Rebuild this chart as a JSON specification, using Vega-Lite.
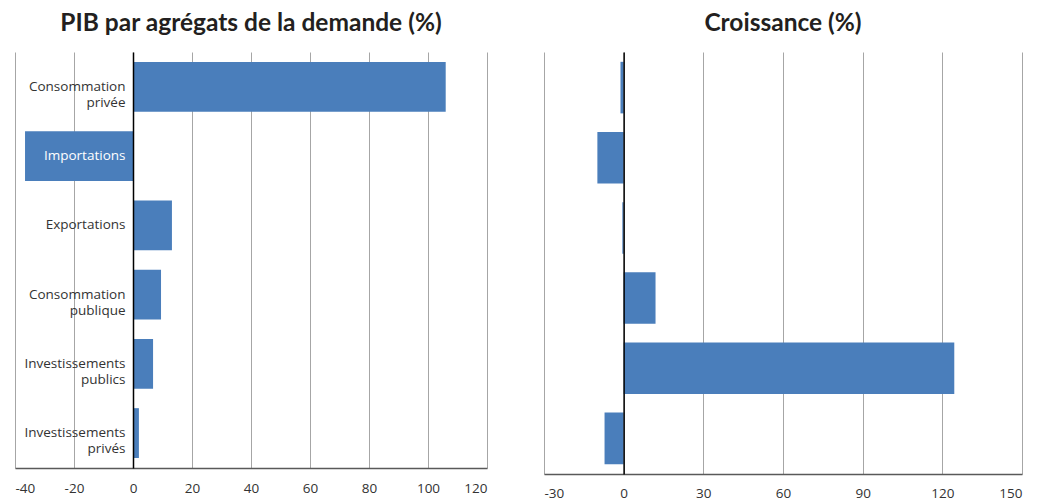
{
  "$schema": "https://vega.github.io/schema/vega-lite/v6.json",
  "background": "white",
  "padding": {"left": 15, "top": 10, "right": 5, "bottom": 0},
  "config": {
    "view": {"stroke": null},
    "font": "Open Sans",
    "concat": {"spacing": 57},
    "title": {"font": "Lato", "fontSize": 24.5, "fontWeight": "bold", "color": "#231f20", "offset": 16}
  },
  "data": {
    "values": [
      {"cat": "Consommation privée", "pib": 106, "croissance": -1.2},
      {"cat": "Importations", "pib": -36.6, "croissance": -9.9},
      {"cat": "Exportations", "pib": 13.2, "croissance": -0.5},
      {"cat": "Consommation publique", "pib": 9.5, "croissance": 12},
      {"cat": "Investissements publics", "pib": 6.8, "croissance": 124.5},
      {"cat": "Investissements privés", "pib": 2, "croissance": -7.2}
    ]
  },
  "hconcat": [
    {
      "width": 472,
      "height": 416,
      "title": {"text": "PIB par agrégats de la demande (%)"},
      "mark": {"type": "bar", "color": "#4a7ebb"},
      "encoding": {
        "y": {
          "field": "cat", "type": "nominal", "sort": null,
          "scale": {"paddingInner": 0.28, "paddingOuter": 0.144},
          "axis": {
            "title": null, "offset": -118, "domainColor": "#000000", "domainWidth": 1.5,
            "ticks": false, "grid": false, "labelPadding": 8, "labelAlign": "right",
            "labelFontSize": 13.5, "labelLimit": 0, "labelLineHeight": 16,
            "labelColor": {"condition": {"test": "datum.value == 'Importations'", "value": "white"}, "value": "#333333"},
            "labelExpr": "split(datum.label, ' ')",
            "zindex": 1
          }
        },
        "x": {
          "field": "pib", "type": "quantitative",
          "scale": {"domain": [-40, 120], "nice": false, "zero": false},
          "axis": {
            "title": null, "values": [-40, -20, 0, 20, 40, 60, 80, 100, 120],
            "labelExpr": "toString(datum.value)",
            "grid": true, "gridColor": "#a6a6a6", "gridWidth": 1, "ticks": false,
            "domainColor": "#595959", "domainWidth": 1.5,
            "labelFontSize": 13.5, "labelColor": "#333333", "labelPadding": 13.5
          }
        }
      }
    },
    {
      "width": 478,
      "height": 422,
      "title": {"text": "Croissance (%)"},
      "mark": {"type": "bar", "color": "#4a7ebb"},
      "encoding": {
        "y": {
          "field": "cat", "type": "nominal", "sort": null,
          "scale": {"paddingInner": 0.265, "paddingOuter": 0.14},
          "axis": {
            "title": null, "offset": -79.6, "domainColor": "#000000", "domainWidth": 1.5,
            "ticks": false, "grid": false, "labels": false, "zindex": 1
          }
        },
        "x": {
          "field": "croissance", "type": "quantitative",
          "scale": {"domain": [-30, 150], "nice": false, "zero": false},
          "axis": {
            "title": null, "values": [-30, 0, 30, 60, 90, 120, 150],
            "labelExpr": "toString(datum.value)",
            "grid": true, "gridColor": "#a6a6a6", "gridWidth": 1, "ticks": false,
            "domainColor": "#595959", "domainWidth": 1.5,
            "labelFontSize": 13.5, "labelColor": "#333333", "labelPadding": 12
          }
        }
      }
    }
  ]
}
